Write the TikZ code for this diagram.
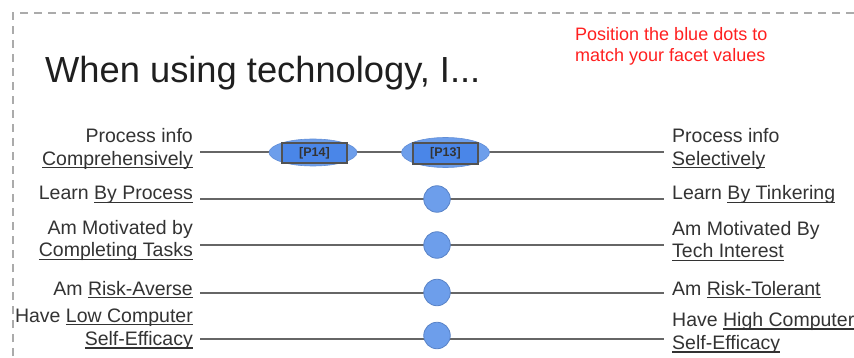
\documentclass[tikz,border=0pt]{standalone}
\usepackage{fontspec}
\setmainfont{Liberation Sans}
\usetikzlibrary{shapes.geometric}
\definecolor{txtgray}{HTML}{333333}
\definecolor{linegray}{HTML}{666666}
\definecolor{dashgray}{HTML}{ABABAB}
\definecolor{dotblue}{HTML}{6D9EEB}
\definecolor{dotedge}{HTML}{5A84C8}
\definecolor{boxblue}{HTML}{4A86E8}
\definecolor{noteRed}{HTML}{FF2020}
\newsavebox\ulbox
\newcommand\ulx[1]{\sbox\ulbox{#1}\rlap{\rule[-3pt]{\wd\ulbox}{1.3pt}}\usebox\ulbox}
\tikzset{
  lbl/.style={font=\fontsize{19.5}{23}\selectfont, text=txtgray, inner sep=0pt, anchor=base east},
  rbl/.style={font=\fontsize{19.5}{23}\selectfont, text=txtgray, inner sep=0pt, anchor=base west},
  scale line/.style={draw=linegray, line width=2pt},
  facetdot/.style={circle, fill=dotblue, draw=dotedge, line width=0.8pt, minimum size=26.5pt, inner sep=0pt},
  facetoval/.style={ellipse, fill=dotblue, draw=dotedge!60!dotblue, line width=0.6pt, inner sep=0pt},
  pbox/.style={rectangle, fill=boxblue, draw=linegray!80!black, line width=1.2pt, minimum width=65pt, inner sep=0pt, font=\fontsize{12.5}{14}\selectfont\bfseries, text=txtgray},
}
\begin{document}
\begin{tikzpicture}[x=1pt,y=-1pt]
\useasboundingbox (0,0) rectangle (854,358);
\clip (0,0) rectangle (854,358);
\fill[white] (0,0) rectangle (854,358);
% dashed frame
\coordinate (fr1) at (13,13);
\coordinate (fr2) at (870,13);
\coordinate (fr3) at (13,370);
\draw[dashgray, line width=1.4pt, dash pattern=on 8pt off 6pt] (fr3) -- (fr1) -- (fr2);
% title and note
\node[anchor=base west, inner sep=0pt, font=\fontsize{36.3}{40}\selectfont, text=black!88] (title) at (45,83) {When using technology, I...};
\node[anchor=base west, inner sep=0pt, font=\fontsize{18}{21}\selectfont, text=noteRed] (note1) at (575,40.5) {Position the blue dots to};
\node[anchor=base west, inner sep=0pt, font=\fontsize{18}{21}\selectfont, text=noteRed] (note2) at (575,61.5) {match your facet values};
% scale lines
\foreach \i/\y in {1/152.5,2/199,3/245,4/292.5,5/339}{
  \coordinate (s\i) at (200,\y);
  \coordinate (e\i) at (664,\y);
  \draw[scale line] (s\i) -- (e\i);
}
% left labels
\node[lbl] (l1a) at (193,142.5) {Process info};
\node[lbl] (l1b) at (193,165.5) {\ulx{Comprehensively}};
\node[lbl] (l2) at (193,200) {Learn \ulx{By Process}};
\node[lbl] (l3a) at (193,235) {Am Motivated by};
\node[lbl] (l3b) at (193,257) {\ulx{Completing Tasks}};
\node[lbl] (l4) at (193,295) {Am \ulx{Risk-Averse}};
\node[lbl] (l5a) at (193,322) {Have \ulx{Low Computer}};
\node[lbl] (l5b) at (193,345.5) {\ulx{Self-Efficacy}};
% right labels
\node[rbl] (r1a) at (672,142.5) {Process info};
\node[rbl] (r1b) at (672,165.5) {\ulx{Selectively}};
\node[rbl] (r2) at (672,200) {Learn \ulx{By Tinkering}};
\node[rbl] (r3a) at (672,235.5) {Am Motivated By};
\node[rbl] (r3b) at (672,258) {\ulx{Tech Interest}};
\node[rbl] (r4) at (672,295) {Am \ulx{Risk-Tolerant}};
\node[rbl] (r5a) at (672,326.5) {Have \ulx{High Computer}};
\node[rbl] (r5b) at (672,349.5) {\ulx{Self-Efficacy}};
% row 1 ovals with participant boxes
\node[facetoval, minimum width=88pt, minimum height=27pt] (o14) at (313,152.5) {};
\node[pbox, minimum height=20pt] (p14) at (314.5,153) {[P14]};
\node[facetoval, minimum width=88pt, minimum height=30pt] (o13) at (445.5,152.5) {};
\node[pbox, minimum height=21pt] (p13) at (445.5,153.5) {[P13]};
% dots
\node[facetdot] (d2) at (437,199) {};
\node[facetdot] (d3) at (437,245) {};
\node[facetdot] (d4) at (437,292.5) {};
\node[facetdot] (d5) at (437,335.5) {};
\end{tikzpicture}
\end{document}
